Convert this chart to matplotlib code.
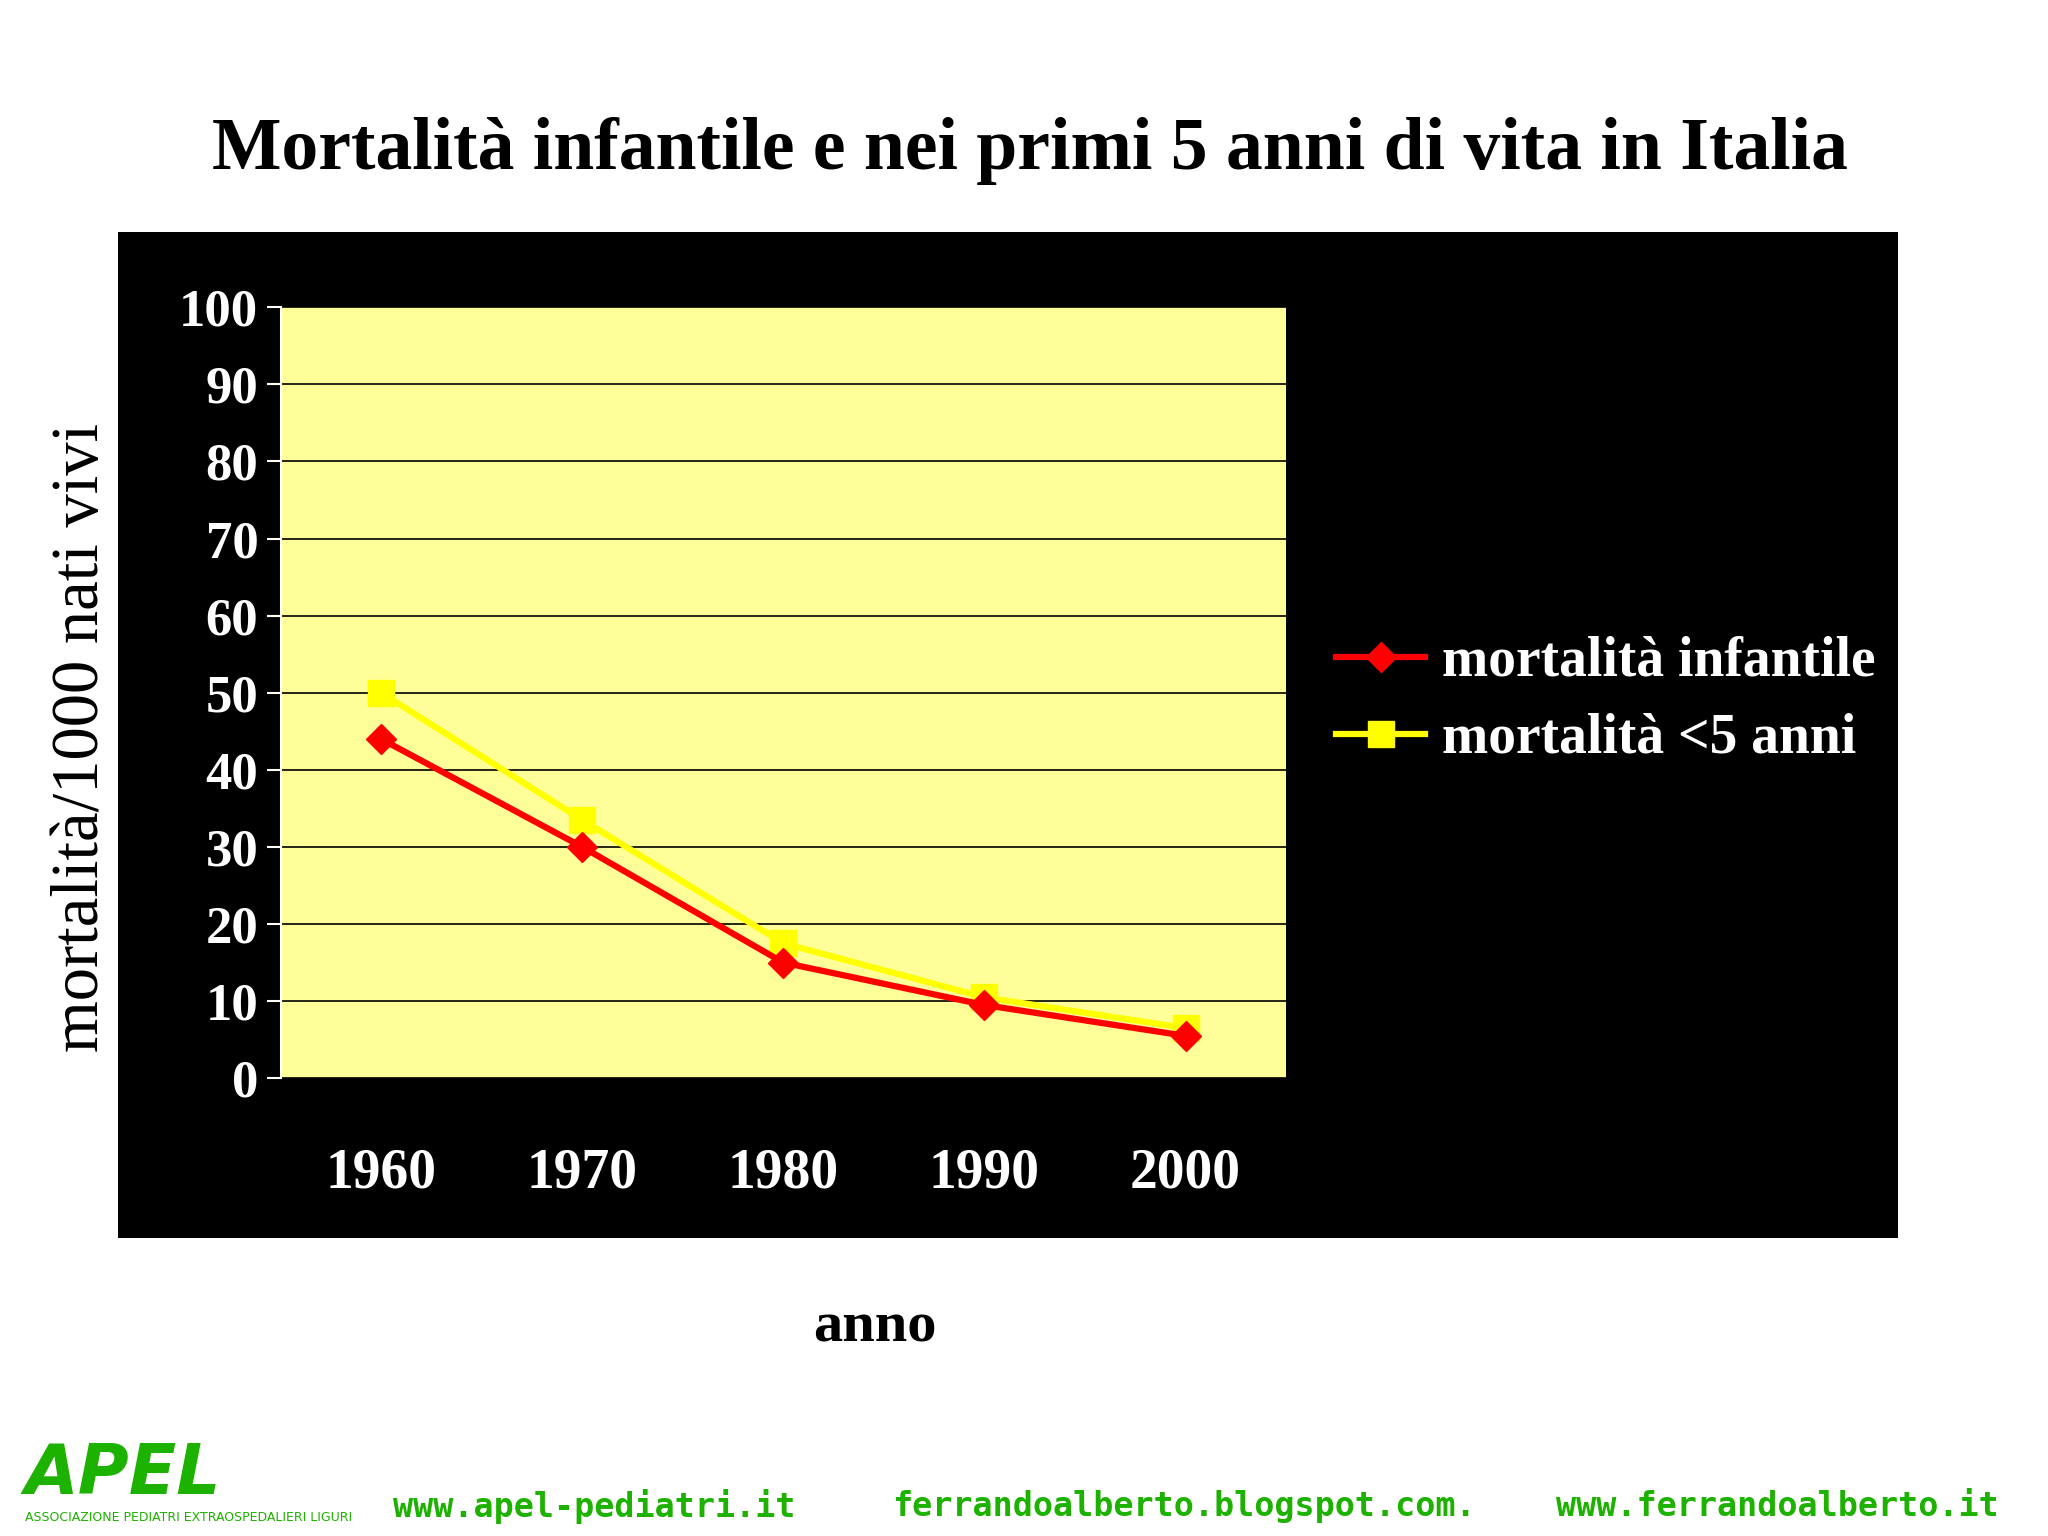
import matplotlib
matplotlib.use("Agg")
import matplotlib.pyplot as plt

years = ["1960", "1970", "1980", "1990", "2000"]
infant = [44, 30, 15, 9.5, 5.5]
under5 = [50, 33.5, 17.5, 10.5, 6.5]
yticks = list(range(0, 101, 10))

plt.rcParams['font.family'] = ['Liberation Serif', 'DejaVu Serif']
fig = plt.figure(figsize=(20.48, 15.36), dpi=100)
fig.patch.set_facecolor('white')
bg = fig.add_axes([0.0574, 0.194, 0.8696, 0.655], zorder=-1)
bg.set_facecolor('black')
bg.set_xticks([]); bg.set_yticks([])
for s in bg.spines.values():
    s.set_visible(False)

fig.text(0.503, 0.902, "Mortalità infantile e nei primi 5 anni di vita in Italia",
         ha='center', va='center', fontsize=53, fontweight='bold')

ax = fig.add_axes([0.137, 0.298, 0.491, 0.502], zorder=1)
ax.set_facecolor('#FFFF99')
x = list(range(len(years)))
ax.set_xlim(-0.5, 4.5)
ax.set_ylim(0, 100)
ax.set_yticks(yticks)
ax.set_yticklabels([str(t) for t in yticks], fontsize=38, fontweight='bold', color='white')
ax.set_xticks(x)
ax.set_xticklabels(years, fontsize=40, fontweight='bold', color='white')
ax.tick_params(axis='x', length=0, pad=50)
ax.tick_params(axis='y', color='white', length=10, width=1.5, pad=6)
ax.yaxis.grid(True, color='black', linewidth=1.2)
ax.set_axisbelow(True)
for s in ['top', 'right', 'bottom']:
    ax.spines[s].set_visible(False)
ax.spines['left'].set_color('white')
ax.spines['left'].set_linewidth(1.5)

ax.plot(x, infant, color='#FF0000', lw=4.5, marker='D', ms=15, label='mortalità infantile', zorder=3)
ax.plot(x, under5, color='#FFFF00', lw=4.5, marker='s', ms=19, label='mortalità <5 anni', zorder=2)

leg = ax.legend(loc='center left', bbox_to_anchor=(1.0, 0.49), frameon=False,
                prop={'size': 40, 'weight': 'bold'}, handlelength=1.6, labelspacing=0.45,
                handletextpad=0.3)
for t in leg.get_texts():
    t.set_color('white')

fig.text(0.04, 0.52, "mortalità/1000 nati vivi", rotation=90, ha='center', va='center',
         fontsize=48, zorder=5)
fig.text(0.427, 0.136, "anno", ha='center', va='center', fontsize=42, fontweight='bold')

green = '#1DB100'
fig.text(0.012, 0.040, "APEL", fontsize=50, fontweight='bold', style='italic', color=green,
         family=['DejaVu Sans'], ha='left', va='center')
fig.text(0.012, 0.012, "ASSOCIAZIONE PEDIATRI EXTRAOSPEDALIERI LIGURI", fontsize=9, color=green,
         family=['DejaVu Sans'], ha='left', va='center')
for xx, s in [(0.29, "www.apel-pediatri.it"), (0.578, "ferrandoalberto.blogspot.com."),
              (0.868, "www.ferrandoalberto.it")]:
    fig.text(xx, 0.019, s, fontsize=24, fontweight='bold', color=green,
             family=['DejaVu Sans Mono'], ha='center', va='center')

fig.savefig("out.png", dpi=100)
